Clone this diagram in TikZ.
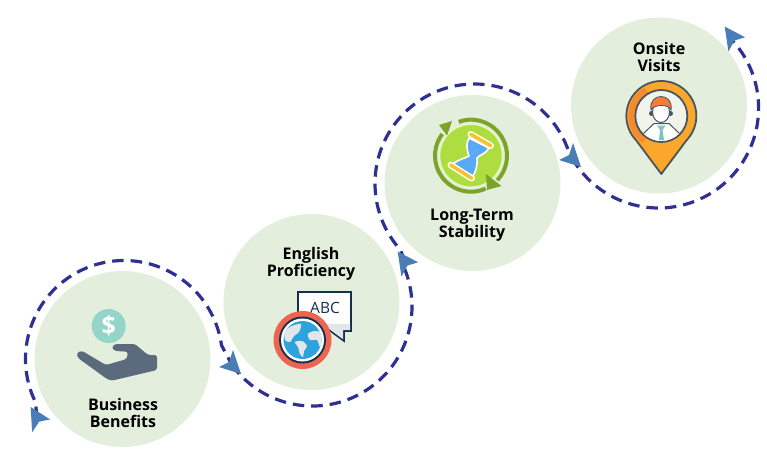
\documentclass[tikz,border=0pt]{standalone}
\usepackage{fontspec}
\setmainfont{Open Sans}
\usetikzlibrary{calc}
\definecolor{stagegreen}{HTML}{E4EEDD}
\definecolor{flowblue}{HTML}{2E3192}
\definecolor{tipblue}{HTML}{4A7DB5}
\definecolor{coinmint}{HTML}{93D5C8}
\definecolor{handslate}{HTML}{5B6B7E}
\definecolor{inknavy}{HTML}{14304F}
\definecolor{globered}{HTML}{EF6351}
\definecolor{globeblue}{HTML}{2CA3DC}
\definecolor{landgrey}{HTML}{E2E6E8}
\definecolor{ringgreen}{HTML}{7BA428}
\definecolor{limefill}{HTML}{AEDD3F}
\definecolor{glassblue}{HTML}{5AA9F5}
\definecolor{baryellow}{HTML}{F6C42A}
\definecolor{pinorange}{HTML}{FBA72B}
\definecolor{pinshade}{HTML}{F58B2A}
\definecolor{hairorange}{HTML}{F47B3A}
\definecolor{pinink}{HTML}{4A5560}
\definecolor{tieteal}{HTML}{7CC5C0}
\tikzset{
  stage/.style={circle,fill=stagegreen,minimum size=176pt,inner sep=0pt},
  stagelabel/.style={align=center,font=\fontsize{16}{17}\selectfont\bfseries,text=black,inner sep=0pt},
  flowline/.style={draw=flowblue,line width=3.2pt,dash pattern=on 11.5pt off 7pt},
  ringline/.style={draw=ringgreen,line width=4pt},
  flowtip/.pic={\fill[tipblue] (-3,-3) -- (-13,2) -- (9,9) -- (1,-15) -- cycle;}
}
\begin{document}
\begin{tikzpicture}[x=1pt,y=-1pt]
  \useasboundingbox (0,0) rectangle (767,468);
  \node[stage] (business) at (122.5,359) {};
  \node[stage] (english) at (311.5,302) {};
  \node[stage] (longterm) at (472.5,183) {};
  \node[stage] (onsite) at (659,105.5) {};
  \coordinate (tipa) at (37,418);
  \coordinate (tipb) at (232,365);
  \coordinate (tipc) at (405,262);
  \coordinate (tipd) at (572,158);
  \coordinate (tipe) at (732,37);
  % dashed arcs
  \draw[flowline] (tipa) -- ($(124,359)+(-206:98.5)$) arc[start angle=-206,end angle=-8,radius=98.5] -- (tipb);
  \draw[flowline] (tipb) arc[start angle=-216,end angle=-385,radius=99.5];
  \draw[flowline] (tipc) -- ($(474.5,183.5)+(-222:99.5)$) arc[start angle=-222,end angle=-15,radius=99.5] -- (tipd);
  \draw[flowline] (tipd) arc[start angle=-210,end angle=-404,radius=100];
  \pic[rotate=165] at (tipa) {flowtip};
  \pic at (tipb) {flowtip};
  \pic[rotate=170] at (tipc) {flowtip};
  \pic at (tipd) {flowtip};
  \pic[rotate=170] at (tipe) {flowtip};
  % labels
  \node[stagelabel] (businesslabel) at (123,413) {Business\\Benefits};
  \node[stagelabel] (englishlabel) at (311,263.5) {English\\Proficiency};
  \node[stagelabel] (longtermlabel) at (472,225.5) {Long-Term\\Stability};
  \node[stagelabel] (onsitelabel) at (659,57) {Onsite\\Visits};
  % hand and coin
  \begin{scope}
    \fill[coinmint] (108.7,326) circle (17);
    \node[text=white,font=\fontsize{25}{25}\selectfont\bfseries,inner sep=0pt] (dollar) at (108.7,326) {\$};
    \fill[handslate,rounded corners=2.5pt] (81.7,350.7) -- (106,365) -- (126.7,359) -- (128,351.7) -- (115,351) -- (111.5,347.5) -- (115,344) -- (135,344) -- (148,355) -- (157,355) -- (157,370) -- (111.7,380.7) -- (107,379) -- (78,358) -- (76.5,353) -- cycle;
  \end{scope}
  % globe and speech bubble
  \begin{scope}
    \draw[inknavy,line width=1.6pt,fill=white,miter limit=4] (298,292) -- (351,292) -- (351,331) -- (344,331) -- (344,341) -- (325,327) -- (298,320) -- cycle;
    \fill[landgrey] (299,324) -- (350,324) -- (350,330) -- (343,330) -- (343,339) -- (328,328) -- cycle;
    \node[text=inknavy,font=\fontsize{15.5}{15.5}\selectfont,inner sep=0pt] (abc) at (325,307.5) {ABC};
    \fill[globered] (302.5,340) circle (29);
    \fill[inknavy] (302.5,340) circle (23.5);
    \fill[white] (302.5,340) circle (21.5);
    \fill[globeblue] (302.5,340) circle (19);
    \begin{scope}
      \clip (302.5,340) circle (19);
      \fill[landgrey] plot[smooth cycle] coordinates {(285,331) (292,326) (301,324) (299,332) (294,336) (290,342) (285,340)};
      \fill[landgrey] plot[smooth cycle] coordinates {(308,334) (314,331) (322,333) (325,342) (320,347) (317,340) (310,340)};
      \fill[landgrey] plot[smooth cycle] coordinates {(295,342) (302,341) (307,346) (304,351) (303,357) (300,354) (298,347)};
    \end{scope}
  \end{scope}
  % hourglass
  \begin{scope}
    \coordinate (glass) at (471,155.7);
    \draw[draw=white!70!limefill,fill=limefill,line width=1.5pt] (glass) circle (31.5);
    \draw[ringline] ($(glass)+(-110:36)$) arc[start angle=-110,end angle=43,radius=36];
    \draw[ringline] ($(glass)+(66:36)$) arc[start angle=66,end angle=217,radius=36];
    \fill[ringgreen] (439,125) -- (452,121) -- (447,135.5) -- cycle;
    \fill[ringgreen] (486,174) -- (501.5,186) -- (487,190) -- cycle;
    \draw[white,line width=1.6pt,fill=glassblue,line join=round] (469,138) -- (489,148) .. controls (486,154) and (479,155) .. (477,158) .. controls (477.5,166) and (476,171) .. (473,176) -- (452,165) .. controls (459,158.5) and (464,159) .. (469,156) .. controls (467,150) and (465.5,144) .. (469,138) -- cycle;
    \draw[white,line width=6.5pt,line cap=round] (470.7,134.3) -- (490.7,145.7);
    \draw[white,line width=6.5pt,line cap=round] (450.7,165) -- (471.7,178.3);
    \draw[baryellow,line width=3.6pt,line cap=round] (470.7,134.3) -- (490.7,145.7);
    \draw[baryellow,line width=3.6pt,line cap=round] (450.7,165) -- (471.7,178.3);
  \end{scope}
  % map pin with person
  \begin{scope}
    \coordinate (pin) at (661.3,116);
    \draw[pinink,line width=1.8pt,fill=pinorange,line join=round] (661.3,174) -- (686.5,140.3) arc[start angle=44,end angle=-224,radius=35] -- cycle;
    \draw[pinshade,line width=6pt] ($(pin)+(-120:30)$) arc[start angle=-120,end angle=-235,radius=30];
    \draw[pinink,line width=1.8pt,fill=stagegreen!60!white] (pin) circle (26);
    \begin{scope}
      \clip (pin) circle (25);
      \draw[pinink,line width=1pt,fill=white] (640,145) -- (644,133) -- (654,123.5) -- (669,123.5) -- (679,133) -- (684,145) -- cycle;
      \fill[tieteal] (657,125.5) -- (665.5,125.5) -- (662.5,130) -- (664,140) -- (659,140) -- (660,130) -- cycle;
    \end{scope}
    \fill[pinink] (651.5,113.5) circle (2.5) (670.5,113.5) circle (2.5);
    \draw[pinink,line width=1pt,fill=white] (661,112) ellipse (8.5 and 10.5);
    \draw[pinink,line width=.8pt,fill=hairorange] (651,110) .. controls (648,92) and (674,92) .. (671,110) .. controls (669,104) and (654,104) .. (651,110) -- cycle;
  \end{scope}
\end{tikzpicture}
\end{document}
